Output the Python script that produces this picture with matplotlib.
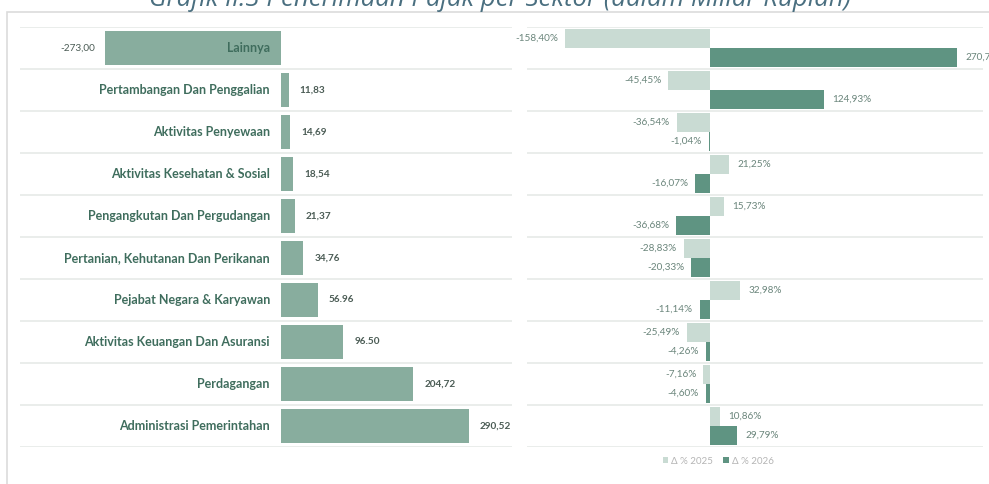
import matplotlib
matplotlib.use("Agg")
import matplotlib.pyplot as plt
from matplotlib.patches import Rectangle
import numpy as np

categories = [
    "Lainnya",
    "Pertambangan Dan Penggalian",
    "Aktivitas Penyewaan",
    "Aktivitas Kesehatan & Sosial",
    "Pengangkutan Dan Pergudangan",
    "Pertanian, Kehutanan Dan Perikanan",
    "Pejabat Negara & Karyawan",
    "Aktivitas Keuangan Dan Asuransi",
    "Perdagangan",
    "Administrasi Pemerintahan",
]
penerimaan = [-273.00, 11.83, 14.69, 18.54, 21.37, 34.76, 56.96, 96.50, 204.72, 290.52]
penerimaan_labels = ["-273,00", "11,83", "14,69", "18,54", "21,37", "34,76",
                     "56.96", "96.50", "204,72", "290,52"]
delta_2025 = [-158.40, -45.45, -36.54, 21.25, 15.73, -28.83, 32.98, -25.49, -7.16, 10.86]
delta_2026 = [270.72, 124.93, -1.04, -16.07, -36.68, -20.33, -11.14, -4.26, -4.60, 29.79]
series_names = ["Δ % 2025", "Δ % 2026"]
title = "Grafik II.3 Penerimaan Pajak per Sektor (dalam Miliar Rupiah)"

W, H = 989, 484
fig = plt.figure(figsize=(W / 100, H / 100), dpi=100)
fig.patch.set_facecolor("white")

C_LEFT = "#88ad9e"
C_LIGHT = "#c9dbd3"
C_DARK = "#5f9482"
C_CAT = "#3f6d5d"
C_VAL = "#4b5c55"
C_RVAL = "#6a857b"
C_GRID = "#e6eae8"

def fx(px):
    return px / W

def fy(py):
    return 1 - py / H

# panel border
fig.patches.append(Rectangle((fx(7), fy(492)), fx(1000) - fx(7), fy(12) - fy(492),
                             transform=fig.transFigure, fill=False,
                             edgecolor="#dcdcdc", linewidth=1.2, zorder=0))

row_top, row_bot = 27, 447
bottom = fy(row_bot)
height = fy(row_top) - fy(row_bot)

n = len(categories)
y = np.arange(n)

# ---------- left panel ----------
axL = fig.add_axes([fx(20), bottom, fx(512) - fx(20), height])
axL.set_xlim(-404, 357.6)
axL.set_ylim(n - 0.5, -0.5)
axL.barh(y, penerimaan, height=0.83, color=C_LEFT, zorder=2)
for yy in np.arange(-0.5, n, 1.0):
    axL.axhline(yy, color=C_GRID, linewidth=1.2, zorder=1)
for i, (v, lab, cat) in enumerate(zip(penerimaan, penerimaan_labels, categories)):
    axL.annotate(cat, (0, i), xytext=(-8, 0), textcoords="offset points",
                 ha="right", va="center", fontsize=9, fontweight="bold",
                 color=C_CAT, family="Lato", zorder=3)
    if v >= 0:
        axL.annotate(lab, (v, i), xytext=(8, 0), textcoords="offset points",
                     ha="left", va="center", fontsize=7.2, fontweight="bold",
                     color=C_VAL, family="Lato")
    else:
        axL.annotate(lab, (v, i), xytext=(-7, 0), textcoords="offset points",
                     ha="right", va="center", fontsize=7.2,
                     color=C_VAL, family="Lato")
axL.axis("off")

# ---------- right panel ----------
axR = fig.add_axes([fx(527), bottom, fx(983) - fx(527), height])
axR.set_xlim(-200.4, 299)
axR.set_ylim(n - 0.5, -0.5)
bh = 0.45
b1 = axR.barh(y - bh / 2, delta_2025, height=bh, color=C_LIGHT, zorder=2,
              label=series_names[0])
b2 = axR.barh(y + bh / 2, delta_2026, height=bh, color=C_DARK, zorder=2,
              label=series_names[1])
for yy in np.arange(-0.5, n, 1.0):
    axR.axhline(yy, color=C_GRID, linewidth=1.2, zorder=1)

def pct(v):
    return f"{v:.2f}%".replace(".", ",")

for vals, off in ((delta_2025, -bh / 2), (delta_2026, bh / 2)):
    for i, v in enumerate(vals):
        if v >= 0:
            axR.annotate(pct(v), (v, i + off), xytext=(6, 0), textcoords="offset points",
                         ha="left", va="center", fontsize=7.2, color=C_RVAL,
                         family="Lato", annotation_clip=False)
        else:
            axR.annotate(pct(v), (v, i + off), xytext=(-5, 0), textcoords="offset points",
                         ha="right", va="center", fontsize=7.2, color=C_RVAL,
                         family="Lato", annotation_clip=False)
axR.axis("off")

fig.legend(handles=[b1, b2], labels=series_names, loc="center",
           bbox_to_anchor=(fx(718), fy(461)), ncol=2, frameon=False,
           handlelength=0.6, handleheight=0.6, handletextpad=0.3,
           columnspacing=1.0, labelcolor="#b5b5b5", prop={"family": "Lato", "size": 7})

fig.text(fx(500), fy(6), title, ha="center", va="baseline", fontsize=18.5,
         style="italic", color="#4a6f80", family="Open Sans")

fig.savefig("out.png", dpi=100, facecolor="white")
